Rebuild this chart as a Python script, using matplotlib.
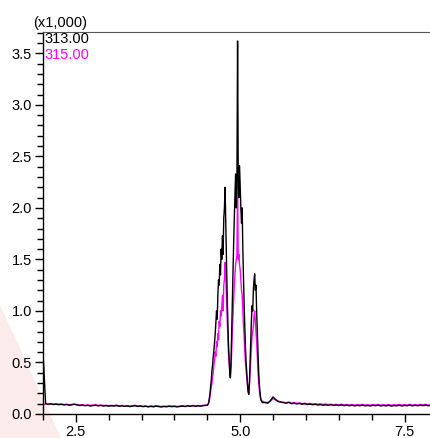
import numpy as np
import matplotlib.pyplot as plt
from matplotlib.ticker import MultipleLocator, FormatStrFormatter
from matplotlib.patches import Polygon

plt.rcParams['font.family'] = ['Liberation Sans', 'DejaVu Sans']

# ==========================
# Data (intensity in x1,000)
# ==========================
labels = ["313.00", "315.00"]
colors = ["black", "#ff00ff"]

# baseline before peak, 2.00 - 4.48 min
black_left = [0.60, 0.100, 0.095, 0.098, 0.092, 0.096, 0.090, 0.094, 0.088, 0.092,
              0.085, 0.090, 0.094, 0.088, 0.082, 0.086, 0.080, 0.084, 0.078, 0.082,
              0.085, 0.079, 0.083, 0.078, 0.081, 0.076, 0.080, 0.077, 0.082, 0.075,
              0.079, 0.074, 0.078, 0.072, 0.076, 0.080, 0.073, 0.077, 0.071, 0.075,
              0.069, 0.074, 0.070, 0.076, 0.072, 0.068, 0.073, 0.070, 0.075, 0.071,
              0.074, 0.069, 0.073, 0.077, 0.072, 0.078, 0.074, 0.080, 0.075, 0.079,
              0.076, 0.081, 0.083]
mag_left = [0.092, 0.098, 0.093, 0.100, 0.095, 0.099, 0.094, 0.097, 0.091, 0.095,
            0.089, 0.093, 0.097, 0.090, 0.086, 0.090, 0.084, 0.088, 0.083, 0.087,
            0.090, 0.083, 0.087, 0.082, 0.085, 0.080, 0.084, 0.081, 0.086, 0.079,
            0.083, 0.078, 0.082, 0.076, 0.080, 0.085, 0.077, 0.081, 0.075, 0.079,
            0.073, 0.078, 0.074, 0.080, 0.076, 0.072, 0.077, 0.074, 0.079, 0.075,
            0.078, 0.073, 0.077, 0.081, 0.076, 0.082, 0.078, 0.083, 0.079, 0.082,
            0.080, 0.085, 0.086]

# peak cluster, 4.50 - 5.35 min
black_peak = [0.085, 0.095, 0.110, 0.150, 0.200, 0.260, 0.330, 0.420, 0.480, 0.560,
              0.620, 0.700, 0.780, 0.900, 1.000, 0.920, 1.150, 1.300, 1.250, 1.450,
              1.350, 1.600, 1.500, 1.730, 1.550, 1.900, 2.000, 2.200, 1.850, 1.500,
              1.200, 0.950, 0.700, 0.550, 0.420, 0.350, 0.500, 0.800, 1.100, 1.400,
              1.650, 1.900, 2.100, 2.330, 2.000, 2.250, 3.620, 2.300, 2.100, 2.410,
              2.200, 2.000, 1.850, 2.000, 1.600, 1.300, 1.050, 0.850, 0.650, 0.500,
              0.400, 0.300, 0.220, 0.190, 0.300, 0.500, 0.700, 0.900, 1.050, 1.000,
              1.200, 1.300, 1.360, 1.200, 1.250, 1.000, 0.800, 0.600, 0.420, 0.300,
              0.220, 0.160, 0.130, 0.120, 0.110, 0.115]
mag_peak = [0.090, 0.088, 0.105, 0.130, 0.170, 0.220, 0.260, 0.300, 0.360, 0.400,
            0.480, 0.520, 0.600, 0.560, 0.700, 0.650, 0.780, 0.720, 0.900, 0.850,
            1.000, 0.950, 1.050, 1.150, 1.000, 1.250, 1.300, 1.470, 1.350, 1.150,
            0.950, 0.800, 0.600, 0.500, 0.420, 0.370, 0.450, 0.600, 0.800, 0.950,
            1.100, 1.250, 1.350, 1.450, 1.500, 1.540, 2.230, 1.500, 1.550, 1.450,
            1.400, 1.300, 1.200, 1.150, 1.000, 0.850, 0.750, 0.600, 0.500, 0.420,
            0.350, 0.280, 0.220, 0.200, 0.280, 0.400, 0.520, 0.650, 0.750, 0.800,
            0.850, 0.950, 1.000, 0.900, 0.800, 0.700, 0.550, 0.420, 0.320, 0.240,
            0.180, 0.150, 0.130, 0.120, 0.125, 0.110]

# baseline after peak, 5.38 - 7.94 min
black_right = [0.110, 0.105, 0.130, 0.165, 0.140, 0.120, 0.115, 0.110, 0.105, 0.112,
               0.100, 0.104, 0.098, 0.102, 0.095, 0.099, 0.092, 0.096, 0.090, 0.094,
               0.087, 0.091, 0.085, 0.089, 0.084, 0.090, 0.083, 0.087, 0.082, 0.088,
               0.081, 0.086, 0.080, 0.085, 0.079, 0.084, 0.080, 0.086, 0.079, 0.083,
               0.078, 0.084, 0.080, 0.085, 0.078, 0.083, 0.079, 0.084, 0.077, 0.082,
               0.079, 0.085, 0.078, 0.083, 0.080, 0.086, 0.079, 0.084, 0.080, 0.085,
               0.081, 0.086, 0.080, 0.084, 0.082]
mag_right = [0.115, 0.110, 0.125, 0.150, 0.135, 0.125, 0.118, 0.114, 0.110, 0.116,
             0.106, 0.110, 0.103, 0.108, 0.100, 0.105, 0.098, 0.103, 0.096, 0.101,
             0.094, 0.099, 0.092, 0.097, 0.090, 0.096, 0.089, 0.094, 0.088, 0.095,
             0.087, 0.093, 0.086, 0.092, 0.085, 0.091, 0.087, 0.093, 0.086, 0.090,
             0.085, 0.092, 0.087, 0.093, 0.085, 0.091, 0.086, 0.092, 0.084, 0.090,
             0.087, 0.093, 0.085, 0.091, 0.087, 0.094, 0.086, 0.092, 0.087, 0.093,
             0.088, 0.094, 0.087, 0.092, 0.090]


def trace(left, peak, right):
    t = np.concatenate([np.linspace(2.00, 4.48, len(left)),
                        np.linspace(4.50, 5.35, len(peak)),
                        np.linspace(5.38, 7.94, len(right))])
    return t, np.concatenate([left, peak, right])


series = [trace(black_left, black_peak, black_right),
          trace(mag_left, mag_peak, mag_right)]

# ==========================
# Plot
# ==========================
fig = plt.figure(figsize=(4.30, 4.38), dpi=100)

# faint red corner of the watermark
fig.patches.append(Polygon([[0.0, 0.30], [0.14, 0.0], [0.0, 0.0]], closed=True,
                           transform=fig.transFigure, color="#fcebeb", zorder=-5))

ax = fig.add_axes([0.1, 0.0548, 0.905, 0.8728])
ax.patch.set_alpha(0)

# magenta drawn first, black on top
for (t, y), c in list(zip(series, colors))[::-1]:
    ax.plot(t, y, color=c, lw=1.0)

ax.set_xlim(2.0, 7.92)
ax.set_ylim(0, 3.71)

ax.xaxis.set_major_locator(MultipleLocator(2.5))
ax.xaxis.set_minor_locator(MultipleLocator(0.5))
ax.yaxis.set_major_locator(MultipleLocator(0.5))
ax.yaxis.set_minor_locator(MultipleLocator(0.1))
ax.xaxis.set_major_formatter(FormatStrFormatter("%.1f"))
ax.yaxis.set_major_formatter(FormatStrFormatter("%.1f"))

ax.tick_params(which="major", direction="out", length=6, width=1, labelsize=10.5, pad=2)
ax.tick_params(which="minor", direction="out", length=4, width=1)

ax.spines["right"].set_visible(False)
ax.spines["top"].set_color("#555555")
for s in ["left", "bottom"]:
    ax.spines[s].set_linewidth(1)

ax.text(-0.026, 1.005, "(x1,000)", transform=ax.transAxes, fontsize=10.5, va="bottom")
ax.text(0.003, 0.998, labels[0], transform=ax.transAxes, fontsize=10.5,
        color=colors[0], va="top")
ax.text(0.003, 0.958, labels[1], transform=ax.transAxes, fontsize=10.5,
        color=colors[1], va="top")

fig.savefig("out.png", dpi=100)
